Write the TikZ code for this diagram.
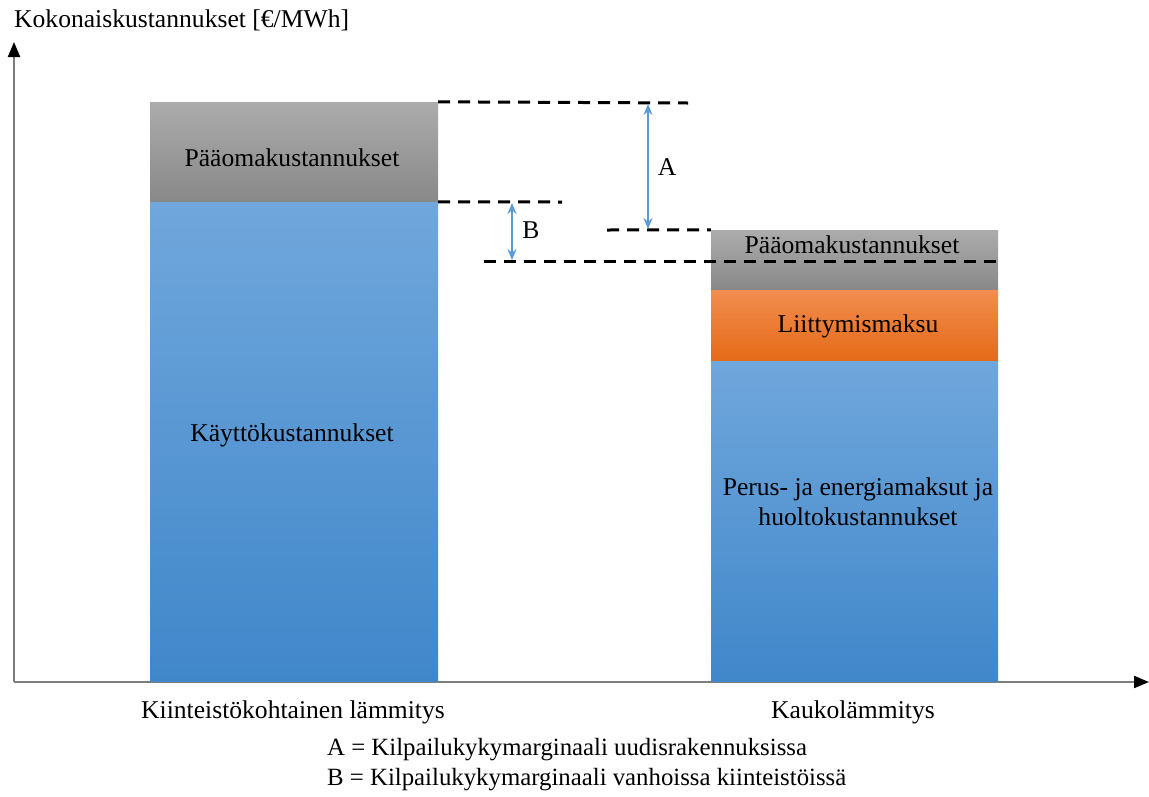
\documentclass[tikz,border=0pt]{standalone}
\usepackage{fontspec}
\setmainfont{Liberation Serif}
\usetikzlibrary{arrows.meta}
\definecolor{captop}{RGB}{172,172,172}
\definecolor{capbot}{RGB}{136,136,136}
\definecolor{runtop}{RGB}{112,167,220}
\definecolor{runbot}{RGB}{64,135,202}
\definecolor{feetop}{RGB}{242,141,80}
\definecolor{feebot}{RGB}{228,106,22}
\definecolor{marginblue}{RGB}{91,155,213}
\definecolor{axisgray}{RGB}{125,125,125}

\begin{document}
\begin{tikzpicture}[
    x=1pt, y=-1pt,
    font=\fontsize{25.6}{30}\selectfont,
    bar/.style={rectangle, inner sep=0pt, align=center},
    capital/.style={bar, top color=captop, bottom color=capbot},
    running/.style={bar, top color=runtop, bottom color=runbot},
    fee/.style={bar, top color=feetop, bottom color=feebot},
    level/.style={draw=black, line width=3pt, dash pattern=on 12pt off 8pt},
    margin/.style={draw=marginblue, line width=2pt, {Stealth[length=11pt,width=9pt]}-{Stealth[length=11pt,width=9pt]}},
    axis/.style={draw=axisgray, line width=2pt, -{Triangle[color=black,length=15pt,width=12pt]}},
    caption/.style={inner sep=0pt}
]
\useasboundingbox (0,0) rectangle (1149,796);

% axes
\coordinate (O) at (14,682);
\coordinate (Ytop) at (14,42);
\coordinate (Xend) at (1149,682);
\draw[axis] (O) -- (Ytop);
\draw[axis] (O) -- (Xend);
\node[caption, anchor=west] (ylabel) at (14,20) {Kokonaiskustannukset [€/MWh]};

% left bar
\node[capital, minimum width=288pt, minimum height=100pt] (capL) at (294,152) {};
\node[running, minimum width=288pt, minimum height=479pt] (runL) at (294,441.5) {};
\node[caption] (capLtext) at (292,158) {Pääomakustannukset};
\node[caption] (runLtext) at (292,435) {Käyttökustannukset};

% right bar
\node[capital, minimum width=287pt, minimum height=60pt] (capR) at (854.5,260) {};
\node[fee, minimum width=287pt, minimum height=71pt] (feeR) at (854.5,325.5) {};
\node[running, minimum width=287pt, minimum height=320pt] (runR) at (854.5,521) {};
\node[caption] (capRtext) at (852,245) {Pääomakustannukset};
\node[caption] (feeRtext) at (858,326) {Liittymismaksu};
\node[caption, align=center] (runRtext) at (858,502) {Perus- ja energiamaksut ja\\huoltokustannukset};

% levels
\coordinate (topEnd) at (688,103);
\coordinate (Bup) at (562,202);
\coordinate (Alow) at (607,230);
\coordinate (Blow) at (484,261);
\draw[level] (capL.north east) -- (topEnd);
\draw[level] (runL.north east) -- (Bup);
\draw[level] (Alow) -- (capR.north west);
\draw[level] (Blow) -- (capR.north east |- Blow);

% margins
\coordinate (A1) at (648,104);
\coordinate (A2) at (648,229);
\coordinate (B1) at (512,203);
\coordinate (B2) at (512,260);
\draw[margin] (A1) -- (A2);
\draw[margin] (B1) -- (B2);
\node[caption] (Alabel) at (667,167) {A};
\node[caption] (Blabel) at (531,230) {B};

% categories
\node[caption] (catL) at (293,712) {Kiinteistökohtainen lämmitys};
\node[caption] (catR) at (853,712) {Kaukolämmitys};
\node[caption, anchor=west, font=\fontsize{24.8}{30}\selectfont] (keyA) at (327,750) {A = Kilpailukykymarginaali uudisrakennuksissa};
\node[caption, anchor=west, font=\fontsize{24.8}{30}\selectfont] (keyB) at (327,780) {B = Kilpailukykymarginaali vanhoissa kiinteistöissä};

\end{tikzpicture}
\end{document}
